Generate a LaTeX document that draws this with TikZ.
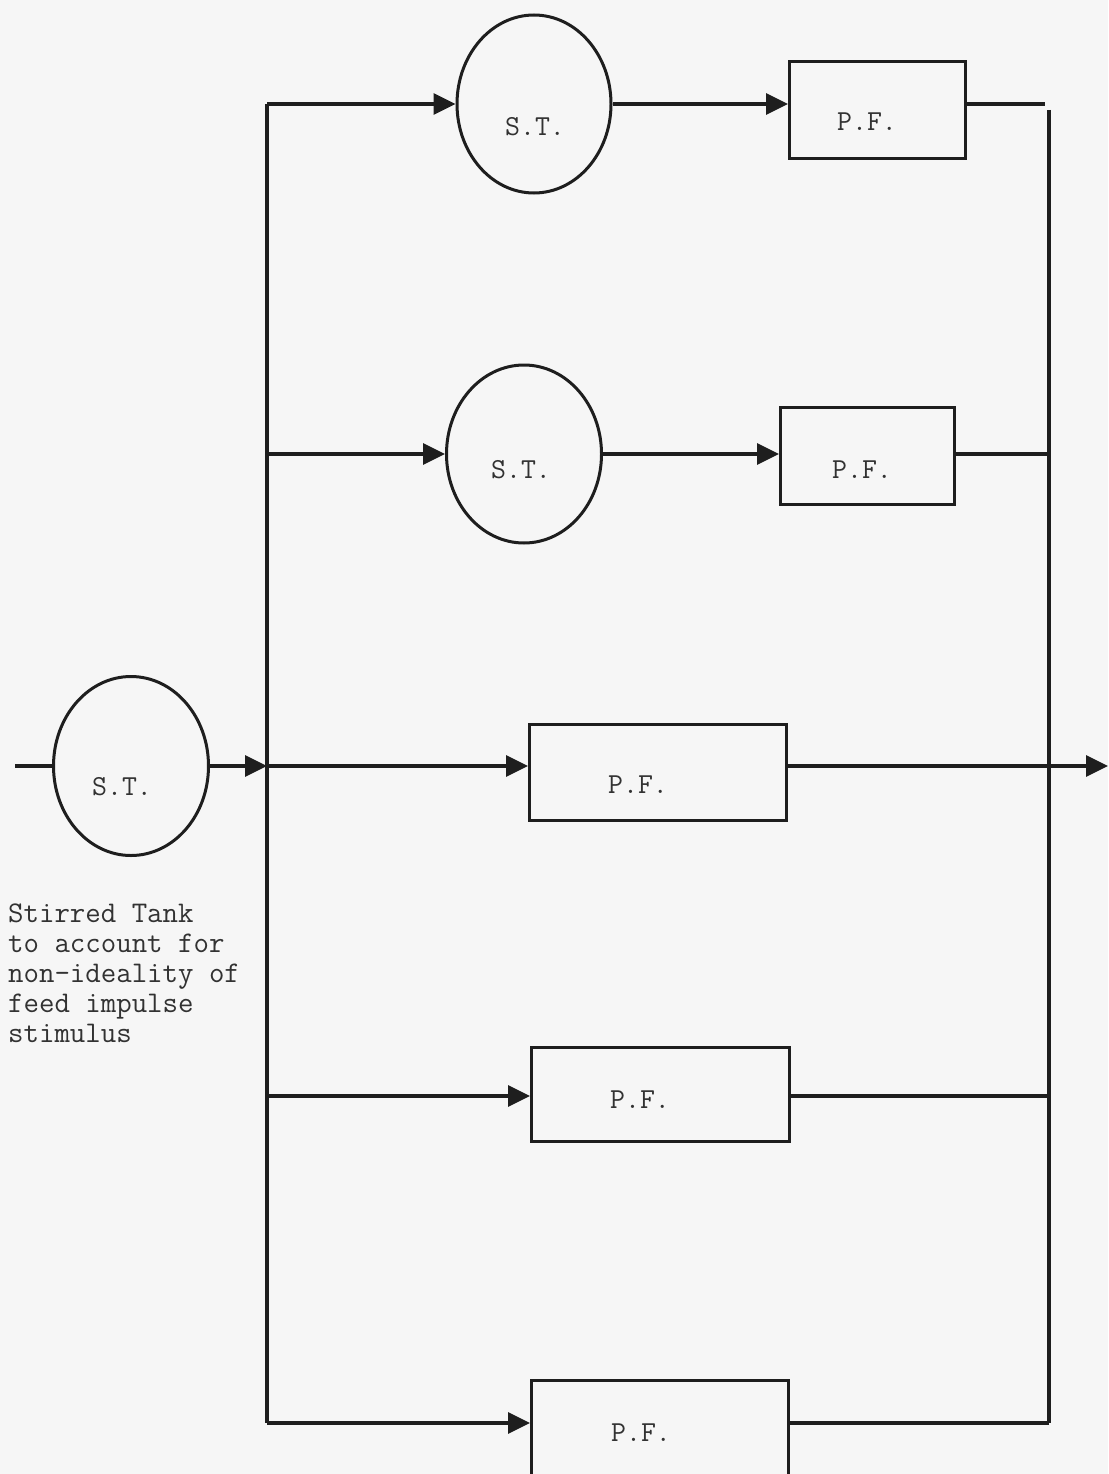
\documentclass[tikz,border=0pt]{standalone}
\usetikzlibrary{shapes.geometric,arrows.meta}
\definecolor{ink}{RGB}{30,30,30}
\definecolor{txt}{RGB}{50,50,50}
\definecolor{bgc}{RGB}{246,246,246}
\begin{document}
\begin{tikzpicture}[x=1pt,y=-1pt,
  wire/.style={draw=ink,line width=3.2pt},
  arr/.style={wire,-{Triangle[length=22pt,width=21pt]}},
  tank/.style={ellipse,draw=ink,line width=3pt,inner sep=0pt},
  pfr/.style={rectangle,draw=ink,line width=3pt,inner sep=0pt},
  lbl/.style={font=\ttfamily\fontsize{29}{29}\selectfont,text=txt,inner sep=0pt}]
\fill[bgc] (0,0) rectangle (1108,1474);
\useasboundingbox (0,0) rectangle (1108,1474);

% stirred tanks
\node[tank,minimum width=155pt,minimum height=179pt] (st0) at (131,766) {};
\node[tank,minimum width=154pt,minimum height=178pt] (st1) at (534,104) {};
\node[tank,minimum width=155pt,minimum height=178pt] (st2) at (524,454) {};
% plug flow
\node[pfr,minimum width=176pt,minimum height=97pt] (pf1) at (877.5,110) {};
\node[pfr,minimum width=174pt,minimum height=97pt] (pf2) at (867.5,456) {};
\node[pfr,minimum width=257pt,minimum height=96pt] (pf3) at (658,772.5) {};
\node[pfr,minimum width=258pt,minimum height=94pt] (pf4) at (660.5,1094.5) {};
\node[pfr,minimum width=257pt,minimum height=100pt] (pf5) at (660,1430) {};

% labels
\node[lbl] (t0) at (122,787) {S.T.};
\node[lbl] (t1) at (535,127) {S.T.};
\node[lbl] (t2) at (521,470) {S.T.};
\node[lbl] (p1) at (867,122) {P.F.};
\node[lbl] (p2) at (862,470) {P.F.};
\node[lbl] (p3) at (638,785) {P.F.};
\node[lbl] (p4) at (640,1100) {P.F.};
\node[lbl] (p5) at (641,1433) {P.F.};

\node[anchor=north west,inner sep=0pt,align=left,text=txt,
  font=\ttfamily\fontsize{30}{30}\selectfont] (note) at (8,904)
  {Stirred Tank\\to account for\\non-ideality of\\feed impulse\\stimulus};

% bus coordinates
\coordinate (in) at (15,766);
\coordinate (L1) at (267,104);
\coordinate (L2) at (267,454);
\coordinate (L3) at (267,766);
\coordinate (L4) at (267,1096);
\coordinate (L5) at (267,1423);
\coordinate (R1) at (1045,104);
\coordinate (Rt) at (1049,110);
\coordinate (R2) at (1049,454);
\coordinate (R4) at (1049,1096);
\coordinate (R5) at (1049,1423);
\coordinate (out) at (1108,766);

% input stirred tank
\draw[wire] (in) -- (st0.west);
\draw[arr] (st0.east) -- (L3);
% distribution bus
\draw[wire] (L1) -- (L5);
% branch 1
\draw[arr] (L1) -- (st1.west);
\draw[arr] (st1.east) -- (st1.east -| pf1.west);
\draw[wire] (pf1.east |- R1) -- (R1);
% branch 2
\draw[arr] (L2) -- (st2.west);
\draw[arr] (st2.east) -- (st2.east -| pf2.west);
\draw[wire] (pf2.east |- R2) -- (R2);
% branch 3
\draw[arr] (L3) -- (L3 -| pf3.west);
\draw[arr] (L3 -| pf3.east) -- (out);
% branch 4
\draw[arr] (L4) -- (L4 -| pf4.west);
\draw[wire] (L4 -| pf4.east) -- (R4);
% branch 5
\draw[arr] (L5) -- (L5 -| pf5.west);
\draw[wire] (L5 -| pf5.east) -- (R5);
% collecting bus
\draw[wire] (Rt) -- (R5);
\end{tikzpicture}
\end{document}
